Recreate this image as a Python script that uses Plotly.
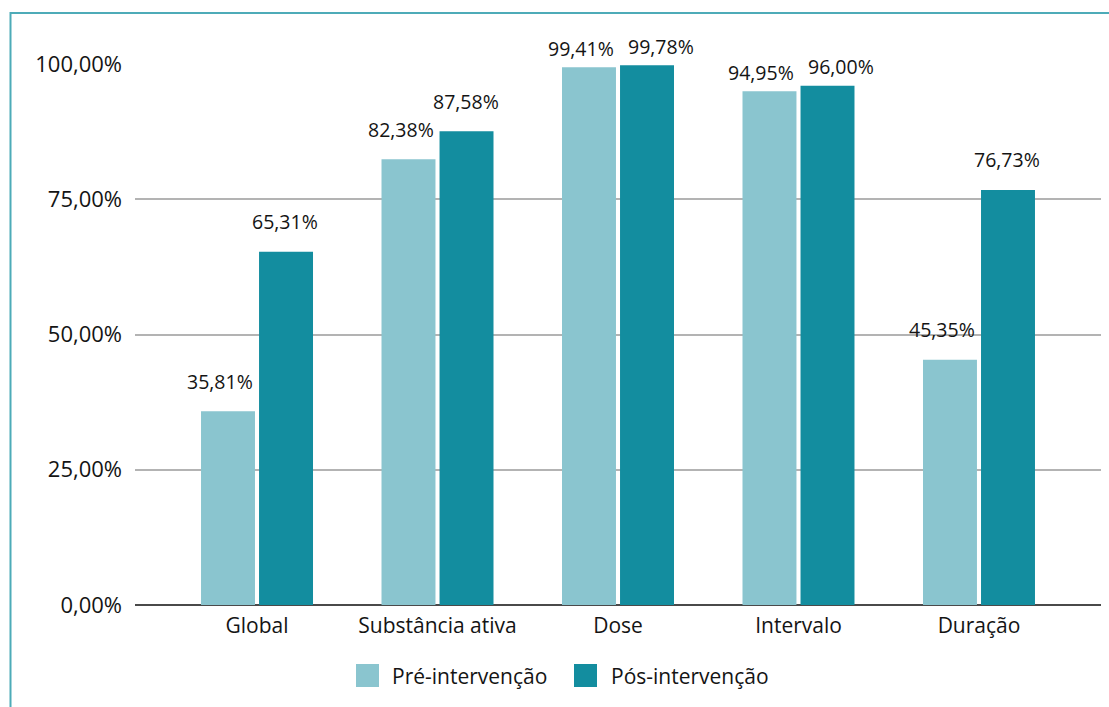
import plotly.graph_objects as go

categories = ["Global", "Substância ativa", "Dose", "Intervalo", "Duração"]
pre = [0.3581, 0.8238, 0.9941, 0.9495, 0.4535]
pos = [0.6531, 0.8758, 0.9978, 0.9600, 0.7673]
series_names = ["Pré-intervenção", "Pós-intervenção"]
y_ticks = [0, 0.25, 0.5, 0.75, 1.0]

C_PRE = "#8AC5CF"
C_POS = "#138D9F"
C_FRAME = "#4DABB8"
TXT = "#141414"
FONT = "Open Sans"

W, H = 1109, 707
ML, MR, MT, MB = 135, 8, 64, 102
PW, PH = W - ML - MR, H - MT - MB


def px_x(px):
    return (px - ML) / PW


def px_y(py):
    return (H - MB - py) / PH


def fmt(v):
    return f"{v*100:.2f}".replace(".", ",") + "%"


fig = go.Figure()
for name, vals, col in [(series_names[0], pre, C_PRE), (series_names[1], pos, C_POS)]:
    fig.add_trace(go.Bar(x=categories, y=vals, name=name, marker=dict(color=col, line=dict(width=0)),
                         showlegend=False, hoverinfo="x+y"))

annotations = []
for i, c in enumerate(categories):
    for j, vals in enumerate([pre, pos]):
        v = vals[i]
        high = v > 0.9
        if j == 0:
            xs = -29 - 8
        else:
            xs = 30 + (13 if high else -2)
        ys = 19 if high else 30
        annotations.append(dict(x=c, y=v, xref="x", yref="y", text=fmt(v), showarrow=False,
                                xshift=xs, yshift=ys, yanchor="middle",
                                font=dict(family=FONT, size=19.5, color=TXT)))

# manual legend
leg = [(356, 390, C_PRE, series_names[0]), (574, 609, C_POS, series_names[1])]
shapes = []
for sx, tx, col, name in leg:
    shapes.append(dict(type="rect", xref="paper", yref="paper", x0=px_x(sx), x1=px_x(sx + 23),
                       y0=px_y(687), y1=px_y(664), fillcolor=col, line=dict(width=0)))
    annotations.append(dict(x=px_x(tx), y=px_y(676), xref="paper", yref="paper", text=name,
                            showarrow=False, xanchor="left", yanchor="middle",
                            font=dict(family=FONT, size=21, color=TXT)))

# frame
shapes.append(dict(type="path", xref="paper", yref="paper",
                   path=f"M {px_x(10.5)},{px_y(720)} L {px_x(10.5)},{px_y(13)} L {px_x(1120)},{px_y(13)}",
                   line=dict(color=C_FRAME, width=2)))

fig.update_layout(
    width=W, height=H,
    margin=dict(l=ML, r=MR, t=MT, b=MB),
    paper_bgcolor="white", plot_bgcolor="white",
    barmode="group", bargap=0.357, bargroupgap=0.07,
    separators=",.",
    font=dict(family=FONT, color=TXT),
    annotations=annotations, shapes=shapes,
    xaxis=dict(range=[-0.676, 4.676], showgrid=False, showline=False, ticks="",
               tickfont=dict(family=FONT, size=21, color=TXT), ticklabelstandoff=6),
    yaxis=dict(range=[0, 1.0], tickvals=y_ticks, tickformat=".2%",
               showgrid=True, gridcolor="#b3b3b3", gridwidth=1.5,
               zeroline=True, zerolinecolor="#4a4a4a", zerolinewidth=1.5,
               showline=False, ticks="", tickfont=dict(family=FONT, size=22, color=TXT),
               ticklabelstandoff=12),
    showlegend=False,
)

fig.write_html("out.html")
